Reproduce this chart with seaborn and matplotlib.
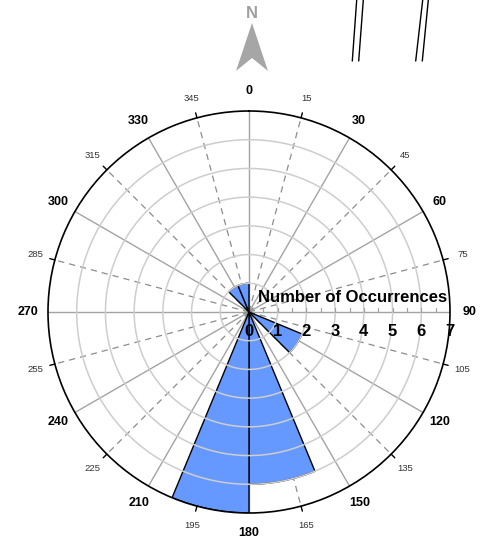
import numpy as np
import pandas as pd
import matplotlib
matplotlib.use("Agg")
import matplotlib.pyplot as plt
from matplotlib import transforms
from matplotlib.lines import Line2D
from matplotlib.markers import TICKUP
from matplotlib.patches import Polygon
import seaborn as sns

# Rose diagram data: bin start azimuth (deg) and number of occurrences per 22.5 deg bin
bin_start_deg = [112.5, 157.5, 180.0, 315.0, 337.5]
counts = [2, 6, 7, 1, 1]
bin_width_deg = 22.5

major_angles = list(range(0, 360, 30))
minor_angles = list(range(15, 360, 30))
radial_ticks = [0, 1, 2, 3, 4, 5, 6, 7]
r_max = 7

sns.set_theme(style="white")
plt.rcParams["font.family"] = ["Liberation Sans", "DejaVu Sans"]

df = pd.DataFrame({"start": np.deg2rad(bin_start_deg), "count": counts})

W, H = 483, 550
fig = plt.figure(figsize=(W / 100, H / 100), dpi=100)
ax = fig.add_axes([48 / W, 37 / H, 402 / W, 402 / H], projection="polar")
ax.set_theta_zero_location("N")
ax.set_theta_direction(-1)
ax.set_ylim(0, r_max)
ax.grid(False)
ax.set_xticks([])
ax.set_yticks([])
ax.spines["polar"].set_color("black")
ax.spines["polar"].set_linewidth(1.2)

# spokes: solid every 30 deg, dashed in between
for a in major_angles:
    t = np.deg2rad(a)
    ax.plot([t, t], [0, r_max], color="#a3a3a3", lw=1.0, zorder=1)
for a in minor_angles:
    t = np.deg2rad(a)
    ax.plot([t, t], [0, r_max], color="#8c8c8c", lw=0.9, dashes=(5, 4), zorder=1)
    ax.plot([t, t], [r_max, r_max + 0.18], color="black", lw=1.0, clip_on=False, zorder=4)

# petals
ax.bar(df["start"], df["count"], width=np.deg2rad(bin_width_deg), align="edge",
       color="#6699ff", edgecolor="black", linewidth=1.0, zorder=2)

# concentric count rings
th = np.linspace(0, 2 * np.pi, 500)
for r in radial_ticks[1:-1]:
    ax.plot(th, np.full_like(th, r), color="#cdcdcd", lw=1.1, zorder=3)

# half-unit scale ticks on the east spoke
half_steps = np.arange(0.5, r_max, 0.5)
ax.plot(np.full_like(half_steps, np.pi / 2), half_steps, linestyle="none",
        marker=TICKUP, markersize=3, markeredgewidth=0.9, color="#a3a3a3", zorder=3)

# azimuth labels
for a in major_angles:
    ax.text(np.deg2rad(a), 7.68, str(a), ha="center", va="center",
            fontsize=9, fontweight="bold", color="black", clip_on=False)
for a in minor_angles:
    ax.text(np.deg2rad(a), 7.7, str(a), ha="center", va="center",
            fontsize=6.8, color="#333333", clip_on=False)

# radial scale along the east spoke
below = transforms.offset_copy(ax.transData, fig=fig, x=0, y=-19, units="dots")
above = transforms.offset_copy(ax.transData, fig=fig, x=0, y=14, units="dots")
for r in radial_ticks:
    ax.text(np.pi / 2, r, str(r), transform=below, ha="center", va="center",
            fontsize=12, fontweight="bold", color="black", zorder=6, clip_on=False)
ax.text(np.pi / 2, 3.62, "Number of Occurrences", transform=above, ha="center",
        va="center", fontsize=12, fontweight="bold", color="black", zorder=6,
        clip_on=False)

# north arrow
def fpt(x, y):
    return (x / W, 1 - y / H)

arrow = Polygon([fpt(252, 23), fpt(268, 71), fpt(252, 58), fpt(236, 71)],
                closed=True, transform=fig.transFigure, facecolor="#a6a6a6",
                edgecolor="none")
fig.add_artist(arrow)
fig.text(*fpt(252, 14), "N", ha="center", va="center", fontsize=12,
         fontweight="bold", color="#a0a0a0")

# double strokes at the top
for (x0, y0, x1, y1) in [(356.7, 0, 352.3, 61), (363.3, 0, 358.7, 61),
                         (422.7, 0, 415.7, 61), (428.3, 0, 422.3, 61)]:
    p0, p1 = fpt(x0, y0), fpt(x1, y1)
    fig.add_artist(Line2D([p0[0], p1[0]], [p0[1], p1[1]], transform=fig.transFigure,
                          color="black", lw=1.0))

fig.savefig("out.png", dpi=100)
